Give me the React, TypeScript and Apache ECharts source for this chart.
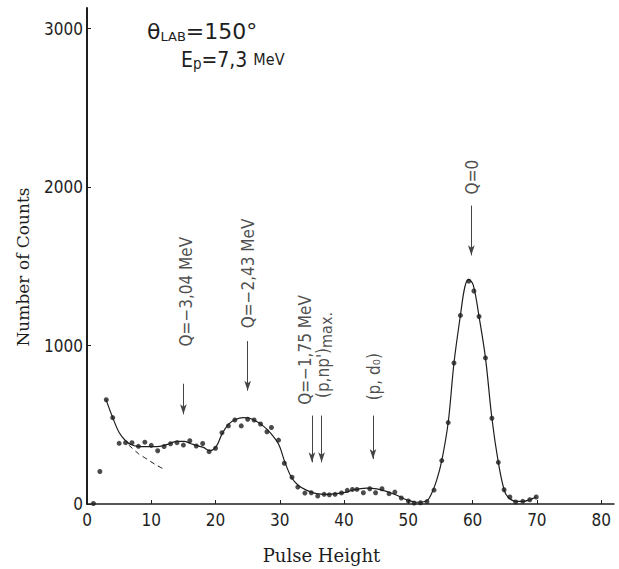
import React, { useEffect, useRef } from 'react';
import * as echarts from 'echarts';

// Measured points (pulse height, number of counts)
const pulseHeights = [
  1, 2, 3, 4, 5, 6, 7, 8, 9, 10, 11, 12, 13, 14, 15, 16, 17, 18, 19, 20,
  21, 22, 23, 24, 25, 26, 27, 28, 28.7, 29.8, 30.7, 31.9, 32.8, 33.9, 34.9, 35.9,
  36.9, 37.7, 38.6, 39.6, 40.5, 41.3, 42.0, 43.0, 44.0, 44.9, 45.9, 47.0, 47.9, 48.9,
  50.0, 50.9, 51.9, 52.9, 54.0, 55.2, 56.2, 57.1, 58.1, 59.4, 60.2, 61.0, 62.0, 63.0,
  64.0, 64.9, 65.8, 66.7, 67.8, 68.9, 69.9,
];
const counts = [
  3, 205, 658, 545, 383, 387, 387, 364, 390, 370, 336, 363, 380, 387, 372, 399, 366, 382, 330, 352,
  450, 493, 530, 493, 535, 530, 505, 456, 483, 403, 257, 169, 107, 69, 71, 50,
  61, 58, 61, 70, 86, 92, 92, 71, 96, 71, 96, 65, 75, 38,
  19, 6, 8, 15, 88, 274, 514, 890, 1190, 1406, 1344, 1183, 922, 541,
  263, 90, 44, 13, 17, 27, 44,
];

// Hand-drawn fitted curve
const fitX = [
  2.95, 4.0, 5.0, 6.0, 6.9, 7.9, 9.3, 10.8, 11.9, 12.9, 14.0, 15.1, 16.1, 17.1, 18.1, 19.1,
  20.1, 21.0, 22.0, 23.1, 24.3, 25.3, 26.4, 27.4, 28.5, 29.8, 30.8, 31.8, 32.9, 34.2, 35.7,
  37.3, 38.8, 40.4, 41.5, 43.5, 45.1, 46.6, 48.2, 49.7, 51.3, 52.8, 53.6, 54.4, 55.2, 56.2,
  57.1, 58.1, 58.8, 59.4, 60.1, 61.0, 62.0, 63.0, 64.0, 64.9, 65.5, 66.7, 67.9, 68.9, 69.9,
];
const fitY = [
  660, 545, 451, 399, 374, 364, 362, 362, 368, 382, 395, 395, 382, 368, 357, 337,
  362, 441, 503, 533, 545, 541, 520, 493, 451, 378, 263, 169, 117, 86, 65,
  61, 65, 75, 90, 100, 96, 80, 55, 27, 11, 19, 65, 149, 274, 514,
  890, 1190, 1371, 1417, 1381, 1183, 922, 541, 263, 90, 44, 17, 17, 27, 44,
];

// Dashed extrapolated background
const tailX = [6.5, 8.0, 9.3, 10.6, 11.9];
const tailY = [372, 318, 284, 250, 221];

// Axis ticks
const xTicks = [0, 10, 20, 30, 40, 50, 60, 70, 80];
const yTicks = [0, 1000, 2000, 3000];

// Arrows
const arrowX = [15, 25, 35, 36.5, 44.5, 59.8];
const arrowTop = [759, 1028, 558, 558, 558, 1883];
const arrowTip = [566, 715, 263, 263, 284, 1569];

// Rotated annotation texts
const labelTexts = ['Q=−3,04 MeV', 'Q=−2,43 MeV', 'Q=−1,75 MeV', "(p,np')max.", '(p, d₀)', 'Q=0'];
const labelX = [15.4, 25.0, 33.9, 36.7, 44.6, 59.9];
const labelY = [1340, 1455, 972, 940, 803, 2063];

const INK = '#1e1e1e';
const LETTER = "'DejaVu Sans Condensed', 'DejaVu Sans', sans-serif";
const WIDE = "'DejaVu Sans', sans-serif";
const SERIF = "'DejaVu Serif', 'Liberation Serif', serif";

export default function App() {
  const ref = useRef<HTMLDivElement>(null);

  useEffect(() => {
    if (!ref.current) return;
    const chart = echarts.init(ref.current, undefined, { renderer: 'svg' });

    const points = pulseHeights.map((x, i) => [x, counts[i]]);
    const fit = fitX.map((x, i) => [x, fitY[i]]);
    const tail = tailX.map((x, i) => [x, tailY[i]]);
    const arrows = arrowX.map((x, i) => [
      { coord: [x, arrowTop[i]] },
      { coord: [x, arrowTip[i]] },
    ]);
    const labels = labelTexts.map((t, i) => [labelX[i], labelY[i], t]);

    chart.setOption({
      animation: false,
      backgroundColor: '#ffffff',
      grid: { left: 87, right: 5, top: 8, bottom: 62, containLabel: false },
      xAxis: {
        type: 'value',
        min: 0,
        max: 82,
        name: 'Pulse Height',
        nameLocation: 'middle',
        nameGap: 42,
        nameTextStyle: { fontFamily: SERIF, fontSize: 18, color: INK, padding: [0, 58, 0, 0] },
        axisLine: { show: true, onZero: false, lineStyle: { color: INK, width: 1.5 } },
        axisTick: { show: true, inside: true, length: 4, customValues: xTicks, lineStyle: { color: INK } },
        axisLabel: {
          customValues: xTicks,
          margin: 7,
          fontFamily: LETTER,
          fontSize: 17,
          color: INK,
          formatter: (v: number) => String(v),
        },
        splitLine: { show: false },
      },
      yAxis: {
        type: 'value',
        min: 0,
        max: 3130,
        name: 'Number of Counts',
        nameLocation: 'middle',
        nameGap: 56,
        nameTextStyle: { fontFamily: SERIF, fontSize: 17, color: INK, padding: [0, 22, 0, 0] },
        axisLine: { show: true, onZero: false, lineStyle: { color: INK, width: 2 } },
        axisTick: { show: true, inside: true, length: 4, customValues: yTicks, lineStyle: { color: INK } },
        axisLabel: {
          customValues: yTicks,
          margin: 4,
          fontFamily: LETTER,
          fontSize: 17,
          color: INK,
          formatter: (v: number) => String(v),
        },
        splitLine: { show: false },
      },
      graphic: [
        {
          type: 'text',
          left: 147,
          top: 20,
          style: {
            text: '{a|θ}{s|LAB}{a|=150°}',
            rich: {
              a: { fontFamily: WIDE, fontSize: 22, fill: INK },
              s: { fontFamily: WIDE, fontSize: 13, fill: INK, padding: [10, 0, 0, 0] },
            },
          },
        },
        {
          type: 'text',
          left: 181,
          top: 49,
          style: {
            text: '{a|E}{s|p}{a|=7,3 }{m|MeV}',
            rich: {
              a: { fontFamily: LETTER, fontSize: 21, fill: INK },
              s: { fontFamily: LETTER, fontSize: 15, fill: INK, padding: [9, 0, 0, 0] },
              m: { fontFamily: LETTER, fontSize: 16, fill: INK },
            },
          },
        },
      ],
      series: [
        {
          name: 'fit',
          type: 'line',
          data: fit,
          smooth: 0.35,
          showSymbol: false,
          symbol: 'none',
          lineStyle: { color: INK, width: 1.2 },
          z: 2,
          markLine: {
            silent: true,
            symbol: ['none', 'arrow'],
            symbolSize: [5, 10],
            label: { show: false },
            lineStyle: { color: '#444', width: 1, type: 'solid' },
            data: arrows,
          },
        },
        {
          name: 'background',
          type: 'line',
          data: tail,
          smooth: 0.3,
          showSymbol: false,
          symbol: 'none',
          lineStyle: { color: INK, width: 1, type: [5, 4] },
          z: 2,
        },
        {
          name: 'counts',
          type: 'scatter',
          data: points,
          symbol: 'circle',
          symbolSize: 5,
          itemStyle: { color: INK },
          z: 3,
        },
        {
          name: 'annotations',
          type: 'scatter',
          data: labels,
          symbolSize: 1,
          itemStyle: { color: 'rgba(0,0,0,0)' },
          silent: true,
          label: {
            show: true,
            position: 'inside',
            rotate: 90,
            align: 'center',
            verticalAlign: 'middle',
            fontFamily: LETTER,
            fontSize: 17,
            color: INK,
            formatter: (p: any) => {
              const t: string = p.data[2];
              if (t.endsWith('max.')) return "(p,np'){s|max.}";
              return t;
            },
            rich: {
              s: { fontFamily: LETTER, fontSize: 16, color: INK, padding: [7, 0, 0, 0] },
            },
          },
          z: 4,
        },
      ],
    });

    return () => chart.dispose();
  }, []);

  return (
    <div
      ref={ref}
      style={{ position: 'fixed', left: 0, top: 0, width: 619, height: 569 }}
    />
  );
}
